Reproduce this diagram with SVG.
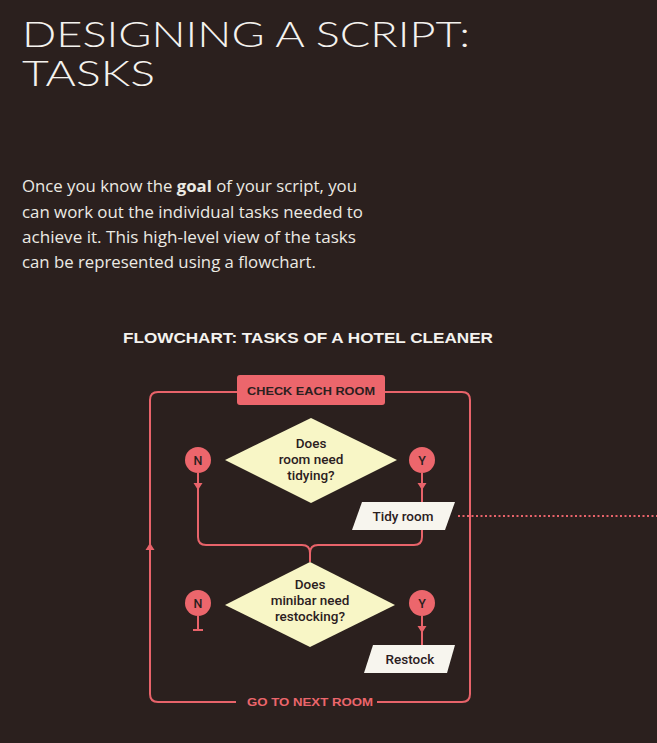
<svg xmlns="http://www.w3.org/2000/svg" width="657" height="743" viewBox="0 0 657 743">
  <defs>
    <style>
      .title { font-family: Lato, "Liberation Sans", sans-serif; font-weight: 300; font-size: 35px; fill: #f4f2ee; }
      .para { font-family: "Open Sans", "Liberation Sans", sans-serif; font-size: 15.5px; fill: #eceae4; }
      .head { font-family: "Liberation Sans", Arial, sans-serif; font-weight: bold; font-size: 14px; fill: #f4f2ee; }
      .line { fill: none; stroke: #e8636a; stroke-width: 2; }
      .dots { fill: none; stroke: #e8636a; stroke-width: 2.2; stroke-dasharray: 2 2.5; }
      .pink { fill: #ec666c; }
      .diam { fill: #f8f6c6; }
      .para-box { fill: #f7f5ee; }
      .lbl { font-family: Roboto, "Liberation Sans", sans-serif; font-weight: 500; font-size: 13.5px; fill: #2b201e; text-anchor: middle; }
      .cap { font-family: "Liberation Sans", Arial, sans-serif; font-weight: bold; font-size: 11.5px; text-anchor: middle; }
      .yn { font-family: Roboto, "Liberation Sans", sans-serif; font-weight: 500; font-size: 12.5px; fill: #2b201e; text-anchor: middle; }
    </style>
    <path id="arrowDown" d="M-4.5,-7 L4.5,-7 L0,0 Z" fill="#e8636a"/>
    <path id="arrowUp" d="M-4.5,7 L4.5,7 L0,0 Z" fill="#e8636a"/>
  </defs>

  <rect x="0" y="0" width="657" height="743" fill="#2b201e"/>

  <g id="title">
    <text class="title" x="22" y="47" textLength="448" lengthAdjust="spacingAndGlyphs">DESIGNING A SCRIPT:</text>
    <text class="title" x="22" y="86" textLength="133" lengthAdjust="spacingAndGlyphs">TASKS</text>
  </g>

  <g id="paragraph">
    <text class="para" x="22" y="192" textLength="335" lengthAdjust="spacingAndGlyphs">Once you know the <tspan font-weight="bold">goal</tspan> of your script, you</text>
    <text class="para" x="22" y="218" textLength="341" lengthAdjust="spacingAndGlyphs">can work out the individual tasks needed to</text>
    <text class="para" x="22" y="243" textLength="334" lengthAdjust="spacingAndGlyphs">achieve it. This high-level view of the tasks</text>
    <text class="para" x="22" y="268" textLength="294" lengthAdjust="spacingAndGlyphs">can be represented using a flowchart.</text>
  </g>

  <g id="heading">
    <text class="head" x="123" y="343" textLength="370" lengthAdjust="spacingAndGlyphs">FLOWCHART: TASKS OF A HOTEL CLEANER</text>
  </g>

  <g id="connectors">
    <!-- outer loop -->
    <path class="line" d="M237,392 H158 Q150,392 150,400 V694 Q150,702 158,702 H236"/>
    <path class="line" d="M385,392 H462 Q470,392 470,400 V694 Q470,702 462,702 H377"/>
    <use href="#arrowUp" x="150" y="543"/>
    <!-- N1 down to merge -->
    <path class="line" d="M198,473 V537 Q198,545 206,545 H302 Q310,545 310,553 V562"/>
    <use href="#arrowDown" x="198" y="490"/>
    <!-- Y1 to tidy room -->
    <path class="line" d="M422,473 V502"/>
    <use href="#arrowDown" x="422" y="490"/>
    <!-- tidy room to merge -->
    <path class="line" d="M422,530 V537 Q422,545 414,545 H318 Q310,545 310,553"/>
    <!-- dotted line out -->
    <path class="dots" d="M458,516 H657"/>
    <!-- N2 terminator -->
    <path class="line" d="M198,616 V630 M193,630 H203"/>
    <!-- Y2 to restock -->
    <path class="line" d="M422,616 V645"/>
    <use href="#arrowDown" x="422" y="633"/>
  </g>

  <g id="check-each-room">
    <rect class="pink" x="237" y="375" width="148" height="30" rx="3"/>
    <text class="cap" x="311" y="395" fill="#2b201e" textLength="128" lengthAdjust="spacingAndGlyphs">CHECK EACH ROOM</text>
  </g>

  <g id="decision-tidy">
    <polygon class="diam" points="311,418 397,460 311,503 225,460"/>
    <text class="lbl" x="311" y="448">Does</text>
    <text class="lbl" x="311" y="464">room need</text>
    <text class="lbl" x="311" y="480">tidying?</text>
  </g>

  <g id="no-tidy">
    <circle class="pink" cx="198" cy="460" r="13"/>
    <text class="yn" x="198" y="464.5">N</text>
  </g>

  <g id="yes-tidy">
    <circle class="pink" cx="422" cy="460" r="13"/>
    <text class="yn" x="422" y="464.5">Y</text>
  </g>

  <g id="tidy-room">
    <polygon class="para-box" points="362,502 455,502 445,530 352,530"/>
    <text class="lbl" x="403" y="521">Tidy room</text>
  </g>

  <g id="decision-minibar">
    <polygon class="diam" points="310,562 395,605 310,647 225,605"/>
    <text class="lbl" x="310" y="589">Does</text>
    <text class="lbl" x="310" y="605">minibar need</text>
    <text class="lbl" x="310" y="621">restocking?</text>
  </g>

  <g id="no-minibar">
    <circle class="pink" cx="198" cy="603" r="13"/>
    <text class="yn" x="198" y="607.5">N</text>
  </g>

  <g id="yes-minibar">
    <circle class="pink" cx="422" cy="603" r="13"/>
    <text class="yn" x="422" y="607.5">Y</text>
  </g>

  <g id="restock">
    <polygon class="para-box" points="373,645 455,645 447,673 364,673"/>
    <text class="lbl" x="410" y="664">Restock</text>
  </g>

  <g id="go-to-next-room">
    <text class="cap" x="310" y="706" fill="#ec666c" textLength="126" lengthAdjust="spacingAndGlyphs">GO TO NEXT ROOM</text>
  </g>
</svg>
